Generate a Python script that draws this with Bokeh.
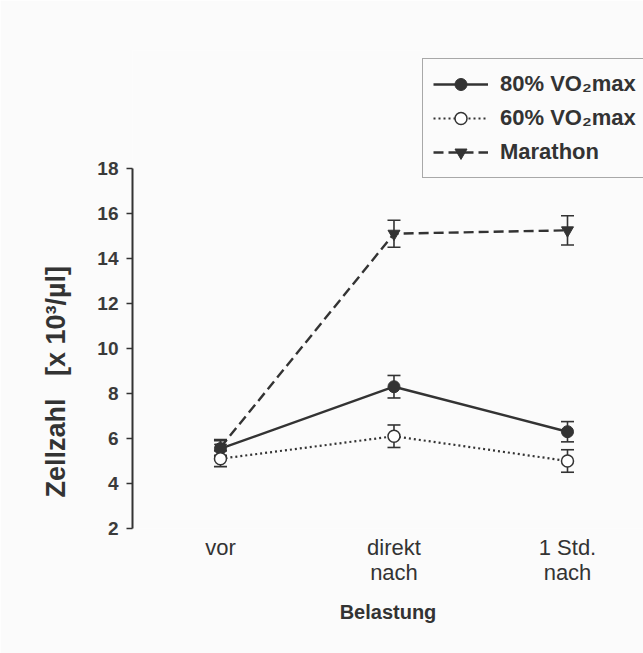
from bokeh.plotting import figure
from bokeh.models import (ColumnDataSource, Whisker, Legend, LegendItem, FixedTicker,
                          TeeHead, Title)
from bokeh.embed import file_html
from bokeh.resources import INLINE

# Time points relative to the exercise load
stages = ["vor", "direkt\nnach", "1 Std.\nnach"]
xpos = [0, 1, 2]

# Cell counts (x 10^3 / µl): mean and error
vo80_mean = [5.55, 8.3, 6.3]
vo80_err = [0.35, 0.5, 0.45]
vo60_mean = [5.1, 6.1, 5.0]
vo60_err = [0.35, 0.5, 0.5]
mara_mean = [5.6, 15.1, 15.25]
mara_err = [0.35, 0.6, 0.65]

y_ticks = [2, 4, 6, 8, 10, 12, 14, 16, 18]

INK = "#333333"
FONT = "Liberation Sans"
BG = "#fbfbfb"
NB = "\u00a0"

# frame reaches up to the legend; the y axis itself only spans 2..18
p = figure(width=643, height=653, output_backend="svg", toolbar_location=None,
           x_range=(-0.507, 2.438), y_range=(2, 23.24),
           min_border_left=132, min_border_right=0, min_border_top=50,
           min_border_bottom=125, background_fill_color=BG,
           border_fill_color=BG, outline_line_color=None)
p.grid.visible = False


def series(mean, err):
    return ColumnDataSource(dict(x=xpos, y=mean,
                                 lo=[m - e for m, e in zip(mean, err)],
                                 hi=[m + e for m, e in zip(mean, err)]))


s80 = series(vo80_mean, vo80_err)
s60 = series(vo60_mean, vo60_err)
smar = series(mara_mean, mara_err)

for src in (smar, s80, s60):
    w = Whisker(source=src, base="x", lower="lo", upper="hi",
                line_color=INK, line_width=1.6,
                upper_head=TeeHead(size=13, line_color=INK, line_width=1.6),
                lower_head=TeeHead(size=13, line_color=INK, line_width=1.6))
    p.add_layout(w)

l_mar = p.line("x", "y", source=smar, line_color=INK, line_width=2.4, line_dash="10 5")
m_mar = p.scatter("x", "y", source=smar, marker="inverted_triangle", size=12,
                  fill_color=INK, line_color=INK)
l80 = p.line("x", "y", source=s80, line_color=INK, line_width=2.4)
m80 = p.scatter("x", "y", source=s80, marker="circle", size=12,
                fill_color=INK, line_color=INK)
l60 = p.line("x", "y", source=s60, line_color=INK, line_width=2.2, line_dash="2 3")
m60 = p.scatter("x", "y", source=s60, marker="circle", size=12,
                fill_color="white", line_color=INK, line_width=1.5)

# y axis
ya = p.yaxis[0]
ya.ticker = FixedTicker(ticks=y_ticks)
ya.bounds = (2, 18)
ya.minor_tick_line_color = None
ya.major_tick_in = 0
ya.major_tick_out = 6
ya.axis_line_width = 2
ya.axis_line_color = INK
ya.major_tick_line_color = INK
ya.major_tick_line_width = 1.5
ya.major_label_text_font = FONT
ya.major_label_text_font_style = "bold"
ya.major_label_text_font_size = "19px"
ya.major_label_text_color = "#3a3a3a"
ya.major_label_standoff = 8

# y axis title, anchored at the bottom of the frame
ytitle = Title(text="Zellzahl" + NB * 3 + "[x 10³/µl]", align="left", offset=31,
               text_font=FONT, text_font_style="bold", text_font_size="27px",
               text_color=INK, standoff=48)
p.add_layout(ytitle, "left")

# x axis: category labels only, no line or ticks
xa = p.xaxis[0]
xa.ticker = FixedTicker(ticks=xpos)
xa.major_label_overrides = {x: s for x, s in zip(xpos, stages)}
xa.axis_line_color = None
xa.major_tick_line_color = None
xa.minor_tick_line_color = None
xa.major_label_text_font = FONT
xa.major_label_text_font_size = "22px"
xa.major_label_text_line_height = 1.0
xa.major_label_text_color = INK
xa.major_label_standoff = 0
xa.axis_label = "Belastung"
xa.axis_label_text_font = FONT
xa.axis_label_text_font_style = "bold"
xa.axis_label_text_font_size = "20px"
xa.axis_label_text_color = INK
xa.axis_label_standoff = 13

legend = Legend(items=[
    LegendItem(label="80% VO₂max", renderers=[l80, m80]),
    LegendItem(label="60% VO₂max", renderers=[l60, m60]),
    LegendItem(label="Marathon", renderers=[l_mar, m_mar]),
], location=(290, 350), margin=0)
legend.label_text_font = FONT
legend.label_text_font_style = "bold"
legend.label_text_font_size = "22px"
legend.label_text_color = INK
legend.label_width = 145
legend.glyph_width = 55
legend.glyph_height = 30
legend.label_height = 30
legend.label_standoff = 12
legend.spacing = 4
legend.padding = 10
legend.border_line_color = "#555555"
legend.border_line_width = 1.2
legend.background_fill_color = BG
legend.background_fill_alpha = 1
p.add_layout(legend)

open("out.html", "w").write(file_html(p, INLINE))
